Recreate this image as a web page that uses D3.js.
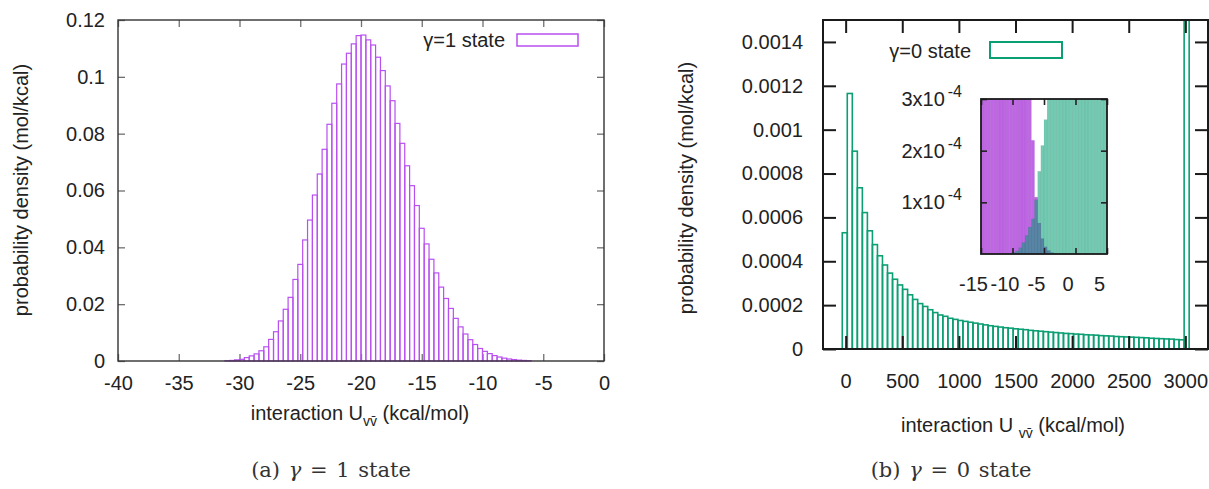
<!DOCTYPE html>
<html lang="en">

<head>
    <meta charset="UTF-8" />
    <title>Interaction energy histograms</title>
    <style>
        body {
            margin: 0;
            background: #fff;
        }

        svg {
            display: block;
        }

        text {
            font-family: "Liberation Sans", Arial, Helvetica, sans-serif;
            fill: #222;
            font-size: 20px;
        }

        .tick text {
            font-size: 20px;
        }

        text.caption {
            font-family: "DejaVu Serif", serif;
            font-size: 21px;
            word-spacing: 2px;
            fill: #333;
        }

        .left-ticks .tick line {
            stroke: #707070;
            stroke-width: 1.3;
        }

        .right-ticks .tick line {
            stroke: #1a1a1a;
            stroke-width: 2;
        }

        .inset-ticks .tick line {
            stroke: #222;
            stroke-width: 1.6;
        }
    </style>
</head>

<body>
    <svg></svg>
    <script src="https://d3js.org/d3.v7.min.js"></script>
    <script>
        const width = 1209;
        const height = 489;

        // gamma = 1 state, bins of 0.4 kcal/mol starting at -31.2
        const g1BinStart = -31.2;
        const g1BinWidth = 0.4;
        const g1Density = [
            0.0001, 0.0002, 0.0004, 0.0006, 0.0012, 0.0018, 0.0025, 0.0036, 0.0050, 0.0076,
            0.0103, 0.0141, 0.0182, 0.0224, 0.0287, 0.0340, 0.0426, 0.0496, 0.0584, 0.0658,
            0.0745, 0.0833, 0.0907, 0.0975, 0.1045, 0.1083, 0.1116, 0.1145, 0.1147, 0.1130,
            0.1112, 0.1069, 0.1022, 0.0968, 0.0916, 0.0836, 0.0766, 0.0687, 0.0617, 0.0547,
            0.0467, 0.0412, 0.0358, 0.0310, 0.0260, 0.0220, 0.0185, 0.0150, 0.0120, 0.0095,
            0.0075, 0.0058, 0.0044, 0.0034, 0.0026, 0.0019, 0.0014, 0.0010, 0.0007, 0.0005,
            0.0003, 0.0002, 0.0001
        ];

        // gamma = 0 state, wide bins; the last one is the overflow spike past 3000
        const g0BinStart = -30;
        const g0BinWidth = 44.4;
        const g0Density = [
            0.000530, 0.001165, 0.000902, 0.000735, 0.000622, 0.000539, 0.000476, 0.000425, 0.000383, 0.000346,
            0.000318, 0.000292, 0.000272, 0.000247, 0.000226, 0.000207, 0.000194, 0.000179, 0.000166, 0.000155,
            0.000149, 0.000140, 0.000135, 0.000130, 0.000126, 0.000122, 0.000118, 0.000114, 0.000110, 0.000106,
            0.000103, 0.000100, 0.000097, 0.000095, 0.000092, 0.000090, 0.000088, 0.000085, 0.000083, 0.000081,
            0.000079, 0.000077, 0.000075, 0.000073, 0.000071, 0.000070, 0.000068, 0.000067, 0.000065, 0.000064,
            0.000063, 0.000061, 0.000060, 0.000059, 0.000057, 0.000056, 0.000055, 0.000054, 0.000053, 0.000052,
            0.000051, 0.000049, 0.000048, 0.000047, 0.000046, 0.000045, 0.000043, 0.000042,
            0.003200
        ];

        // inset: both states around the overlap, bins of 0.5 kcal/mol from -15
        const insetBinStart = -15;
        const insetBinWidth = 0.5;
        const insetG1 = [
            0.040, 0.033, 0.027, 0.022, 0.018, 0.014, 0.011, 0.0085, 0.0064, 0.0048,
            0.0035, 0.0025, 0.0018, 0.0012, 0.0008, 0.00048, 0.00022, 0.00011, 0.00006, 0.00003,
            0.000014, 0.000007, 0.000003, 0.000001, 0, 0, 0, 0, 0, 0,
            0, 0, 0, 0, 0, 0, 0, 0, 0, 0
        ];
        const insetG0 = [
            0, 0, 0, 0, 0, 0, 0, 0, 0, 0,
            0.000003, 0.000006, 0.000012, 0.000022, 0.000036, 0.000052, 0.000068, 0.000105, 0.00016, 0.00021,
            0.00026, 0.00034, 0.00045, 0.00058, 0.00066, 0.00072, 0.00078, 0.00082, 0.00084, 0.00085,
            0.00084, 0.00082, 0.00079, 0.00076, 0.00073, 0.00070, 0.00067, 0.00064, 0.00061, 0.00058
        ];

        const leftXTicks = [-40, -35, -30, -25, -20, -15, -10, -5, 0];
        const leftYTicks = [0, 0.02, 0.04, 0.06, 0.08, 0.1, 0.12];
        const leftYLabels = ["0", "0.02", "0.04", "0.06", "0.08", "0.1", "0.12"];
        const rightXTicks = [0, 500, 1000, 1500, 2000, 2500, 3000];
        const rightYTicks = [0, 0.0002, 0.0004, 0.0006, 0.0008, 0.001, 0.0012, 0.0014];
        const rightYLabels = ["0", "0.0002", "0.0004", "0.0006", "0.0008", "0.001", "0.0012", "0.0014"];
        const insetXTicks = [-15, -10, -5, 0, 5];
        const insetYTicks = [0.0001, 0.0002, 0.0003];
        const insetYLabels = ["1x10", "2x10", "3x10"];

        const purple = "#b94ff0";
        const green = "#0c9f74";

        const svg = d3.select("svg")
            .attr("width", width)
            .attr("height", height);

        const defs = svg.append("defs");

        function bars(values, start, step) {
            return values.map((v, i) => ({ x0: start + i * step, x1: start + (i + 1) * step, v }));
        }

        function frame(g, box, color, w) {
            g.append("rect")
                .attr("x", box.left)
                .attr("y", box.top)
                .attr("width", box.right - box.left)
                .attr("height", box.bottom - box.top)
                .attr("fill", "none")
                .attr("stroke", color)
                .attr("stroke-width", w);
        }

        // mirrored inward ticks on all four sides, labels on bottom and left
        function ticks(g, cls, box, x, y, xt, yt, len, xFmt, yFmt, xPad, yPad) {
            const t = g.append("g").attr("class", cls);
            t.append("g")
                .attr("class", "x-bottom")
                .attr("transform", `translate(0,${box.bottom})`)
                .call(d3.axisBottom(x).tickValues(xt).tickSize(-len).tickPadding(xPad).tickFormat(xFmt))
                .call(a => a.select(".domain").remove());
            t.append("g")
                .attr("transform", `translate(0,${box.top})`)
                .call(d3.axisTop(x).tickValues(xt).tickSize(-len).tickFormat(""))
                .call(a => a.select(".domain").remove());
            t.append("g")
                .attr("class", "y-left")
                .attr("transform", `translate(${box.left},0)`)
                .call(d3.axisLeft(y).tickValues(yt).tickSize(-len).tickPadding(yPad).tickFormat(yFmt))
                .call(a => a.select(".domain").remove());
            t.append("g")
                .attr("transform", `translate(${box.right},0)`)
                .call(d3.axisRight(y).tickValues(yt).tickSize(-len).tickFormat(""))
                .call(a => a.select(".domain").remove());
            t.selectAll("g").attr("font-size", null).attr("font-family", null);
            return t;
        }

        function xLabel(g, cx, cy, gap) {
            const t = g.append("text")
                .attr("x", cx)
                .attr("y", cy)
                .attr("text-anchor", "middle");
            t.append("tspan").text(gap ? "interaction U " : "interaction U");
            t.append("tspan").attr("dy", 6).style("font-size", "14px").text("vv\u0304");
            t.append("tspan").attr("dy", -6).text(" (kcal/mol)");
        }

        function yLabel(g, cx, cy) {
            g.append("text")
                .attr("transform", `translate(${cx},${cy}) rotate(-90)`)
                .attr("text-anchor", "middle")
                .text("probability density (mol/kcal)");
        }

        function caption(g, cx, cy, letter, n) {
            const t = g.append("text")
                .attr("class", "caption")
                .attr("x", cx)
                .attr("y", cy)
                .attr("text-anchor", "middle");
            t.append("tspan").text(`(${letter}) `);
            t.append("tspan").style("font-style", "italic").text("\u03b3");
            t.append("tspan").text(` = ${n} state`);
        }

        // ---------- (a) gamma = 1 ----------
        const A = { left: 118, right: 604, top: 20, bottom: 361 };
        const xA = d3.scaleLinear().domain([-40, 0]).range([A.left, A.right]);
        const yA = d3.scaleLinear().domain([0, 0.12]).range([A.bottom, A.top]);
        const gA = svg.append("g");

        ticks(gA, "left-ticks", A, xA, yA, leftXTicks, leftYTicks, 7,
            d => String(d), (d, i) => leftYLabels[i], 15, 13);

        gA.append("g")
            .selectAll("rect")
            .data(bars(g1Density, g1BinStart, g1BinWidth))
            .join("rect")
            .attr("x", d => xA(d.x0))
            .attr("width", d => xA(d.x1) - xA(d.x0))
            .attr("y", d => yA(d.v))
            .attr("height", d => yA(0) - yA(d.v))
            .attr("fill", "none")
            .attr("stroke", purple)
            .attr("stroke-width", 1.2);

        frame(gA, A, "#333", 1.4);

        gA.append("text").attr("x", 505).attr("y", 47).attr("text-anchor", "end").text("\u03b3=1 state");
        gA.append("rect").attr("x", 517).attr("y", 34).attr("width", 61).attr("height", 12)
            .attr("fill", "none").attr("stroke", purple).attr("stroke-width", 1.5);

        yLabel(gA, 28, 190);
        xLabel(gA, 360, 420, false);
        caption(gA, 331, 477, "a", 1);

        // ---------- (b) gamma = 0 ----------
        const B = { left: 823, right: 1208, top: 20, bottom: 349 };
        const xB = d3.scaleLinear().domain([-200, 3200]).range([B.left, B.right]);
        const yB = d3.scaleLinear().domain([0, 0.0015]).range([B.bottom, B.top]);
        const gB = svg.append("g");

        defs.append("clipPath").attr("id", "clipB")
            .append("rect")
            .attr("x", B.left).attr("y", B.top)
            .attr("width", B.right - B.left).attr("height", B.bottom - B.top);

        gB.append("g")
            .attr("clip-path", "url(#clipB)")
            .selectAll("rect")
            .data(bars(g0Density, g0BinStart, g0BinWidth))
            .join("rect")
            .attr("x", d => xB(d.x0))
            .attr("width", d => xB(d.x1) - xB(d.x0))
            .attr("y", d => yB(d.v))
            .attr("height", d => yB(0) - yB(d.v))
            .attr("fill", "none")
            .attr("stroke", green)
            .attr("stroke-width", 1.6);

        ticks(gB, "right-ticks", B, xB, yB, rightXTicks, rightYTicks, 13,
            d => String(d), (d, i) => rightYLabels[i], 25, 20);

        frame(gB, B, "#1a1a1a", 2);

        gB.append("text").attr("x", 971).attr("y", 58).attr("text-anchor", "end").text("\u03b3=0 state");
        gB.append("rect").attr("x", 990).attr("y", 42).attr("width", 72).attr("height", 16)
            .attr("fill", "none").attr("stroke", green).attr("stroke-width", 2);

        yLabel(gB, 693, 188);
        xLabel(gB, 1013, 432, true);
        caption(gB, 951, 477, "b", 0);

        // ---------- inset ----------
        const I = { left: 981, right: 1107, top: 99, bottom: 254 };
        const xI = d3.scaleLinear().domain([-15, 5]).range([I.left, I.right]);
        const yI = d3.scaleLinear().domain([0, 0.0003]).range([I.bottom, I.top]);
        const gI = svg.append("g");

        defs.append("clipPath").attr("id", "clipI")
            .append("rect")
            .attr("x", I.left).attr("y", I.top)
            .attr("width", I.right - I.left).attr("height", I.bottom - I.top);

        gI.append("rect")
            .attr("x", I.left).attr("y", I.top)
            .attr("width", I.right - I.left).attr("height", I.bottom - I.top)
            .attr("fill", "#fff");

        const insetLayer = gI.append("g").attr("clip-path", "url(#clipI)");
        [[insetG1, "#9400d3", 0.6], [insetG0, "#009e73", 0.55]].forEach(([vals, col, op]) => {
            insetLayer.append("g")
                .selectAll("rect")
                .data(bars(vals, insetBinStart, insetBinWidth).filter(d => d.v > 0))
                .join("rect")
                .attr("x", d => xI(d.x0))
                .attr("width", d => xI(d.x1) - xI(d.x0))
                .attr("y", d => yI(d.v))
                .attr("height", d => yI(0) - yI(d.v))
                .attr("fill", col)
                .attr("fill-opacity", op)
                .attr("stroke", "rgba(0,0,0,0.07)")
                .attr("stroke-width", 0.6);
        });

        const ti = ticks(gI, "inset-ticks", I, xI, yI, insetXTicks, insetYTicks, 6,
            d => String(d), () => "", 23, 19);
        ti.select(".x-bottom").selectAll("text").attr("dx", -8);
        ti.select(".y-left").selectAll("text")
            .each(function (d, i) {
                const t = d3.select(this);
                t.text(insetYLabels[i]);
                t.append("tspan").attr("dx", 3).attr("dy", -9).style("font-size", "16px").text("-4");
            });

        frame(gI, I, "#1a1a1a", 1.8);
    </script>
</body>

</html>
